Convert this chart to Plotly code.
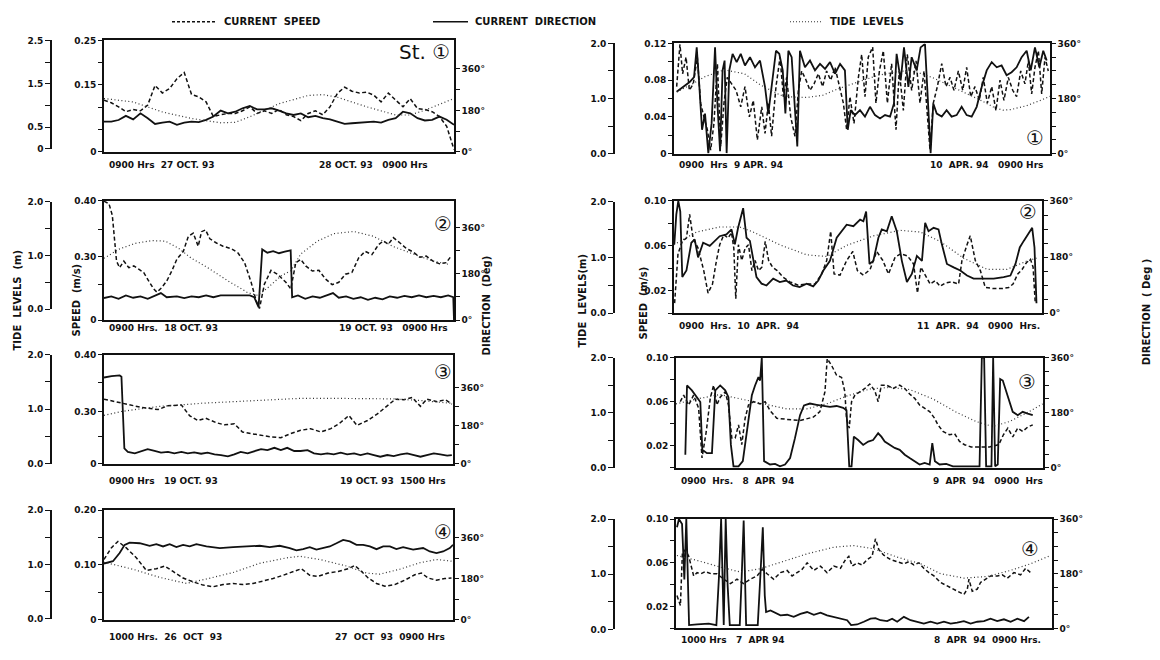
import plotly.graph_objects as go

W, H = 1160, 660

# ---------------- DATA (hours from start, value) ----------------
# Left column, station 1 (0900 27 Oct 93 -> 0900 28 Oct 93)
L1_SPEED = [(0, .116), (.5, .110), (1, .101), (1.5, .090), (2, .095), (2.5, .092), (3, .105), (3.5, .149), (4, .132),
            (4.5, .142), (5, .164), (5.5, .178), (6, .129), (6.5, .123), (7, .112), (7.5, .079), (8, .083), (8.5, .086),
            (9, .086), (9.5, .092), (10, .101), (10.5, .086), (11, .092), (11.5, .086), (12, .095), (12.5, .083),
            (13, .079), (13.5, .070), (14, .086), (14.5, .092), (15, .083), (15.5, .101), (16, .131), (16.5, .145),
            (17, .136), (17.5, .132), (18, .134), (18.5, .127), (19, .112), (19.5, .132), (20, .116), (20.5, .101),
            (21, .119), (21.5, .097), (22, .095), (22.5, .090), (23, .079), (23.5, .057), (24, .005)]
L1_DIR = [(0, 131), (.5, 131), (1, 138), (1.5, 156), (2, 141), (2.5, 167), (3, 146), (3.5, 121), (4, 127), (4.5, 131),
          (5, 117), (5.5, 127), (6, 131), (6.5, 129), (7, 139), (7.5, 153), (8, 179), (8.5, 167), (9, 174), (9.5, 189),
          (10, 199), (10.5, 184), (11, 184), (11.5, 189), (12, 179), (12.5, 167), (13, 160), (13.5, 167), (14, 150),
          (14.5, 156), (15, 146), (15.5, 141), (16, 131), (16.5, 121), (17, 124), (17.5, 127), (18, 127), (18.5, 131),
          (19, 127), (19.5, 139), (20, 146), (20.5, 174), (21, 167), (21.5, 146), (22, 136), (22.5, 139), (23, 153),
          (23.5, 139), (24, 117)]
L1_TIDE = [(0, 1.16), (2, 1.08), (4, .85), (6, .70), (8, .60), (9, .61), (10, .74), (12, 1.04), (14, 1.23), (15, 1.25),
           (16, 1.19), (18, .97), (20, .78), (21, .78), (22, .89), (24, 1.16)]

# Left column, station 2 (0900 18 Oct 93 -> 0900 19 Oct 93); speed in broken-axis units
L2_SPEED = [(0, .399), (.34, .391), (.57, .352), (.73, .275), (.86, .198), (1.07, .176), (1.36, .198), (1.7, .176),
            (2.04, .182), (2.38, .171), (2.72, .160), (3.06, .132), (3.4, .105), (3.63, .094), (3.97, .110),
            (4.31, .132), (4.65, .165), (4.99, .204), (5.44, .231), (5.78, .281), (6.12, .292), (6.46, .248),
            (6.69, .297), (6.96, .303), (7.26, .273), (7.71, .259), (8.16, .248), (8.73, .240), (9.18, .226),
            (9.64, .193), (10.09, .127), (10.43, .066), (10.66, .039), (11.0, .121), (11.45, .167), (11.9, .154),
            (12.47, .127), (12.81, .105), (13.15, .193), (13.49, .204), (13.83, .182), (14.29, .165), (14.74, .167),
            (15.19, .138), (15.65, .119), (16.1, .127), (16.55, .154), (17.0, .160), (17.46, .209), (17.91, .231),
            (18.37, .220), (18.82, .253), (19.16, .266), (19.5, .255), (19.84, .277), (20.3, .259), (20.75, .240),
            (21.2, .229), (21.66, .211), (22.1, .215), (22.56, .198), (23.02, .189), (23.47, .193), (23.8, .215)]
L2_DIR = [(0, 86), (.5, 92), (1, 83), (1.5, 96), (2, 87), (2.5, 92), (3, 83), (3.5, 96), (3.9, 105), (4.3, 89),
          (5, 92), (5.5, 86), (6, 92), (6.5, 89), (7, 96), (7.5, 89), (8, 96), (9, 96), (10, 96), (10.3, 89),
          (10.6, 51), (10.85, 275), (11.2, 262), (11.6, 268), (12, 260), (12.4, 266), (12.8, 271), (12.9, 89),
          (13.3, 96), (13.8, 83), (14.3, 92), (14.8, 87), (15.3, 96), (15.7, 105), (16.1, 87), (16.6, 92), (17.1, 83),
          (17.6, 89), (18.1, 79), (18.6, 87), (19.1, 81), (19.6, 92), (20.1, 87), (20.6, 94), (21.1, 89), (21.6, 96),
          (22.1, 89), (22.6, 94), (23.1, 89), (23.6, 96), (23.95, 89), (24, 0)]
L2_TIDE = [(0, .95), (1.02, 1.12), (2.15, 1.23), (3.29, 1.28), (4.2, 1.27), (5.1, 1.14), (6.0, .95), (7.14, .77),
           (8.5, .53), (9.86, .31), (10.54, .26), (11.22, .40), (12.13, .62), (12.81, .72), (13.49, 1.03),
           (14.63, 1.27), (15.76, 1.41), (17.12, 1.45), (18.48, 1.36), (19.84, 1.17), (21.2, 1.03), (22.56, .90),
           (23.58, .84)]

# Left column, station 3 (0900 -> 1500 19 Oct 93); speed in broken-axis units
L3_SPEED = [(0, .237), (.30, .223), (.64, .207), (.93, .199), (1.10, .213), (1.33, .216), (1.47, .177), (1.61, .159),
            (1.75, .167), (1.93, .151), (2.07, .143), (2.24, .147), (2.38, .117), (2.53, .111), (2.70, .105),
            (2.87, .099), (3.04, .096), (3.21, .111), (3.38, .123), (3.55, .129), (3.73, .117), (3.90, .129),
            (4.04, .147), (4.21, .177), (4.35, .141), (4.53, .159), (4.70, .183), (4.87, .211), (5.01, .237),
            (5.15, .235), (5.30, .243), (5.44, .211), (5.55, .237), (5.73, .228), (5.87, .235), (5.98, .219)]
L3_DIR = [(0, 407), (.13, 414), (.27, 417), (.3, 411), (.35, 73), (.41, 57), (.53, 50), (.64, 61), (.75, 70), (.87, 61),
          (.98, 53), (1.1, 57), (1.21, 50), (1.33, 57), (1.44, 50), (1.55, 54), (1.67, 48), (1.78, 53), (1.9, 45),
          (2.01, 42), (2.13, 36), (2.24, 45), (2.35, 57), (2.47, 50), (2.58, 61), (2.7, 70), (2.81, 65), (2.93, 76),
          (3.04, 65), (3.15, 76), (3.27, 61), (3.38, 61), (3.5, 65), (3.61, 50), (3.73, 45), (3.84, 50), (3.95, 45),
          (4.07, 53), (4.18, 45), (4.3, 50), (4.41, 42), (4.53, 50), (4.64, 42), (4.75, 34), (4.87, 42), (4.98, 37),
          (5.1, 45), (5.21, 50), (5.33, 42), (5.44, 34), (5.55, 42), (5.67, 50), (5.78, 45), (5.9, 39), (5.98, 42)]
L3_TIDE = [(0, .89), (.3, .96), (.64, 1.01), (.93, 1.05), (1.33, 1.08), (1.67, 1.11), (2.24, 1.14), (2.81, 1.17),
           (3.38, 1.20), (3.95, 1.20), (4.53, 1.20), (4.98, 1.19), (5.44, 1.16), (5.98, 1.11)]

# Left column, station 4 (1000 26 Oct 93 -> 0900 27 Oct 93)
L4_SPEED = [(0, .110), (.48, .131), (.92, .143), (1.47, .131), (2.13, .113), (2.79, .090), (3.45, .093), (4.0, .098),
            (4.55, .088), (5.21, .076), (5.87, .069), (6.53, .063), (7.19, .060), (7.85, .064), (8.51, .066),
            (9.16, .064), (9.82, .066), (10.48, .070), (11.14, .075), (11.8, .081), (12.46, .088), (13.01, .093),
            (13.56, .081), (14.11, .079), (14.77, .085), (15.43, .088), (16.09, .093), (16.53, .099), (16.97, .088),
            (17.41, .076), (17.96, .066), (18.51, .061), (19.16, .064), (19.82, .072), (20.48, .082), (20.92, .085),
            (21.36, .076), (21.91, .072), (22.46, .075), (22.9, .076)]
L4_DIR = [(0, 246), (.59, 256), (1.03, 292), (1.36, 328), (1.69, 338), (2.35, 335), (3.01, 324), (3.45, 331),
          (3.89, 321), (4.33, 331), (4.77, 318), (5.21, 328), (5.65, 321), (6.09, 331), (6.75, 321), (7.63, 314),
          (8.51, 318), (9.38, 321), (10.26, 324), (10.92, 318), (11.58, 324), (12.24, 314), (12.68, 304),
          (13.12, 309), (13.56, 318), (14.0, 307), (14.44, 314), (14.88, 321), (15.32, 335), (15.76, 350),
          (16.2, 343), (16.64, 328), (17.08, 328), (17.52, 321), (17.96, 309), (18.4, 321), (18.84, 321),
          (19.27, 309), (19.71, 318), (20.37, 307), (21.03, 314), (21.47, 299), (21.91, 292), (22.35, 299),
          (22.79, 314), (23.0, 328)]
L4_TIDE = [(0, 1.04), (1.91, .91), (3.67, .76), (5.43, .65), (6.75, .73), (8.51, .85), (10.26, 1.02), (12.02, 1.12),
           (12.9, 1.15), (14.22, 1.09), (15.98, .97), (17.3, .84), (18.18, .82), (19.49, .91), (20.81, 1.03),
           (21.91, 1.09), (22.9, 1.06)]

# Right column, station 1 (0900 9 Apr 94 -> 0900 10 Apr 94)
R1_SPEED = [(.17, .073), (.38, .119), (.55, .087), (.77, .105), (.98, .069), (1.23, .076), (1.49, .105), (1.7, .055),
            (1.91, .040), (2.13, .026), (2.34, .004), (2.55, .033), (2.77, .098), (2.98, .008), (3.19, .055),
            (3.4, .083), (3.68, .076), (3.96, .069), (4.26, .051), (4.53, .073), (4.81, .040), (5.06, .058),
            (5.32, .015), (5.6, .051), (5.81, .022), (6.02, .055), (6.23, .019), (6.51, .073), (6.77, .105),
            (6.98, .062), (7.19, .083), (7.45, .040), (7.72, .019), (7.94, .069), (8.15, .090), (8.43, .080),
            (8.68, .069), (8.94, .076), (9.21, .087), (9.49, .073), (9.74, .090), (10.0, .080), (10.28, .094),
            (10.55, .073), (10.81, .055), (11.02, .026), (11.23, .062), (11.49, .033), (11.77, .083), (11.98, .108),
            (12.19, .062), (12.4, .105), (12.68, .116), (12.89, .055), (13.11, .090), (13.36, .112), (13.62, .055),
            (13.89, .098), (14.17, .026), (14.38, .090), (14.64, .047), (14.89, .108), (15.17, .069), (15.45, .101),
            (15.7, .055), (15.96, .090), (16.17, .037), (16.34, .004), (16.55, .055), (16.81, .073), (17.09, .098),
            (17.36, .073), (17.62, .083), (17.87, .069), (18.15, .090), (18.43, .069), (18.68, .094), (18.94, .062),
            (19.21, .073), (19.49, .058), (19.74, .083), (20.0, .055), (20.28, .073), (20.55, .047), (20.81, .080),
            (21.06, .058), (21.34, .083), (21.62, .069), (21.87, .062), (22.13, .090), (22.4, .076), (22.62, .101),
            (22.83, .065), (23.04, .094), (23.26, .112), (23.47, .065), (23.68, .105), (23.89, .090)]
R1_DIR = [(.17, 202), (.6, 218), (1.0, 234), (1.28, 250), (1.45, 347), (1.62, 218), (1.79, 78), (1.98, 131), (2.19, 2),
          (2.4, 99), (2.62, 347), (2.77, 164), (2.94, 8), (3.1, 272), (3.23, 304), (3.36, 2), (3.53, 272), (3.74, 326),
          (4.0, 299), (4.26, 326), (4.53, 288), (4.85, 315), (5.17, 282), (5.49, 304), (5.81, 218), (6.02, 131),
          (6.3, 239), (6.51, 336), (6.72, 326), (6.94, 272), (7.11, 131), (7.3, 336), (7.51, 315), (7.72, 164),
          (7.87, 24), (8.04, 336), (8.36, 282), (8.68, 304), (9.0, 272), (9.32, 293), (9.64, 277), (9.96, 299),
          (10.28, 261), (10.6, 293), (10.91, 272), (11.09, 78), (11.28, 142), (11.55, 126), (11.87, 142),
          (12.19, 121), (12.51, 153), (12.83, 126), (13.15, 115), (13.47, 126), (13.79, 121), (14.04, 164),
          (14.21, 326), (14.47, 239), (14.68, 347), (14.96, 218), (15.17, 315), (15.49, 272), (15.74, 347),
          (16.02, 358), (16.23, 121), (16.38, 2), (16.55, 164), (16.77, 131), (17.09, 121), (17.4, 142),
          (17.72, 121), (18.04, 126), (18.36, 153), (18.68, 126), (19.0, 121), (19.32, 153), (19.64, 218),
          (19.96, 272), (20.28, 299), (20.6, 282), (20.91, 288), (21.23, 256), (21.55, 266), (21.87, 282),
          (22.19, 315), (22.51, 336), (22.77, 272), (23.04, 347), (23.32, 282), (23.57, 336), (23.79, 304)]
R1_TIDE = [(.17, 1.12), (1.0, 1.24), (2.0, 1.40), (3.2, 1.52), (4.5, 1.45), (5.5, 1.25), (6.8, 1.06), (7.5, 1.03),
           (8.5, 1.02), (9.5, 1.06), (10.5, 1.18), (11.7, 1.30), (13.0, 1.42), (14.5, 1.50), (15.5, 1.48),
           (16.5, 1.38), (17.5, 1.25), (18.5, 1.12), (19.5, .98), (20.5, .83), (21.0, .79), (21.5, .80), (22.5, .87),
           (23.5, .98), (24.0, 1.04)]

# Right column, station 2 (0900 10 Apr 94 -> 0900 11 Apr 94)
R2_SPEED = [(.04, .009), (.26, .053), (.54, .064), (.81, .067), (1.02, .088), (1.24, .067), (1.57, .058), (1.94, .038),
            (2.22, .018), (2.51, .026), (2.77, .047), (2.98, .061), (3.25, .070), (3.53, .067), (3.75, .072),
            (3.9, .058), (4.03, .013), (4.2, .061), (4.42, .047), (4.64, .058), (4.86, .061), (5.08, .038),
            (5.29, .047), (5.51, .038), (5.73, .041), (5.95, .064), (6.17, .047), (6.43, .041), (6.73, .038),
            (7.12, .032), (7.56, .028), (8.1, .025), (8.65, .026), (9.19, .026), (9.63, .035), (9.96, .047),
            (10.22, .073), (10.44, .035), (10.83, .034), (11.26, .047), (11.66, .055), (11.96, .038), (12.35, .034),
            (12.79, .039), (13.22, .055), (13.62, .047), (13.99, .035), (14.42, .050), (14.79, .053), (15.23, .051),
            (15.62, .044), (15.88, .018), (16.1, .041), (16.38, .034), (16.71, .026), (17.04, .029), (17.36, .024),
            (17.69, .027), (18.13, .028), (18.56, .026), (18.78, .047), (19.11, .061), (19.32, .069), (19.65, .047),
            (19.98, .038), (20.3, .023), (20.85, .022), (21.39, .022), (21.83, .023), (22.11, .026), (22.42, .035),
            (22.7, .039), (22.98, .045), (23.25, .048), (23.42, .041), (23.56, .009)]
R2_DIR = [(.02, 221), (.15, 316), (.28, 360), (.41, 326), (.54, 116), (.81, 137), (1.13, 226), (1.35, 237), (1.57, 179),
          (1.9, 226), (2.33, 216), (2.66, 232), (2.98, 247), (3.42, 253), (3.75, 269), (3.97, 221), (4.18, 274),
          (4.51, 337), (4.73, 242), (4.95, 232), (5.16, 168), (5.38, 116), (5.71, 95), (6.03, 89), (6.47, 111),
          (6.9, 100), (7.32, 105), (7.76, 89), (8.19, 84), (8.65, 95), (9.08, 86), (9.41, 105), (9.74, 137),
          (10.17, 168), (10.61, 242), (10.94, 263), (11.26, 284), (11.7, 279), (12.14, 300), (12.35, 295),
          (12.53, 326), (12.75, 158), (13.0, 168), (13.33, 242), (13.55, 269), (13.88, 263), (14.2, 311),
          (14.53, 263), (14.86, 168), (15.19, 100), (15.51, 126), (15.84, 184), (16.17, 168), (16.38, 290),
          (16.6, 263), (16.93, 274), (17.25, 269), (17.47, 221), (17.8, 158), (18.24, 147), (18.67, 137),
          (19.11, 121), (19.54, 111), (20.2, 111), (20.85, 111), (21.5, 116), (21.94, 121), (22.27, 158),
          (22.55, 211), (22.81, 232), (23.14, 258), (23.36, 274), (23.51, 211), (23.64, 32)]
R2_TIDE = [(0, 1.23), (1.46, 1.46), (2.98, 1.55), (4.29, 1.55), (5.16, 1.46), (6.9, 1.23), (8.65, 1.05), (9.96, 1.02),
           (11.26, 1.22), (13.0, 1.39), (14.75, 1.49), (16.06, 1.46), (17.36, 1.29), (18.89, .99), (20.41, .79),
           (21.72, .79), (23.03, .94), (23.64, .99)]

# Right column, station 3 (0900 8 Apr 94 -> 0900 9 Apr 94)
R3_SPEED = [(.28, .060), (.5, .066), (.83, .057), (1.15, .066), (1.48, .054), (1.7, .009), (1.98, .033), (2.24, .063),
            (2.46, .075), (2.67, .057), (2.89, .064), (3.22, .069), (3.43, .057), (3.65, .027), (3.87, .027),
            (4.09, .039), (4.3, .021), (4.52, .045), (4.74, .057), (5.07, .060), (5.5, .058), (5.83, .060),
            (6.15, .052), (6.59, .045), (7.24, .044), (8.11, .043), (8.98, .046), (9.41, .051), (9.74, .069),
            (9.89, .099), (10.17, .093), (10.5, .084), (10.83, .082), (11.04, .069), (11.15, .045), (11.33, .036),
            (11.48, .060), (11.7, .066), (12.02, .069), (12.35, .072), (12.67, .076), (13.0, .070), (13.22, .060),
            (13.43, .075), (13.76, .075), (14.2, .072), (14.63, .075), (14.96, .072), (15.28, .067), (15.61, .063),
            (15.93, .057), (16.26, .054), (16.59, .051), (16.91, .045), (17.13, .039), (17.46, .033), (17.89, .030),
            (18.22, .031), (18.54, .024), (18.87, .021), (19.3, .019), (19.85, .019), (20.5, .019), (21.11, .021),
            (21.41, .030), (21.7, .036), (22.02, .028), (22.35, .036), (22.67, .033), (23.0, .037), (23.33, .039)]
R3_DIR = [(.61, 43), (.72, 269), (1.04, 253), (1.37, 231), (1.59, 215), (1.72, 59), (2.02, 48), (2.35, 48), (2.57, 253),
          (2.89, 269), (3.22, 253), (3.43, 231), (3.59, 75), (3.76, 5), (4.09, 5), (4.37, 22), (4.52, 75), (4.74, 161),
          (4.96, 237), (5.17, 269), (5.39, 296), (5.5, 285), (5.61, 360), (5.76, 22), (6.15, 11), (6.48, 13),
          (6.8, 5), (7.13, 11), (7.46, 32), (7.78, 97), (8.11, 172), (8.37, 204), (8.76, 210), (9.2, 206),
          (9.63, 202), (10.07, 199), (10.5, 202), (10.93, 196), (11.15, 188), (11.33, 5), (11.48, 5), (11.63, 102),
          (11.91, 91), (12.24, 75), (12.57, 86), (12.89, 91), (13.22, 113), (13.43, 102), (13.65, 86), (13.98, 75),
          (14.3, 65), (14.63, 59), (14.96, 43), (15.28, 32), (15.61, 22), (15.93, 11), (16.26, 16), (16.59, 11),
          (16.76, 81), (16.93, 22), (17.24, 11), (17.67, 13), (18.11, 5), (18.76, 5), (19.41, 5), (19.85, 5),
          (20.0, 360), (20.15, 360), (20.28, 5), (20.63, 5), (20.74, 360), (20.87, 5), (21.04, 11), (21.2, 290),
          (21.37, 285), (21.7, 237), (22.02, 183), (22.35, 172), (22.67, 183), (23.0, 177), (23.33, 172)]
R3_TIDE = [(0, 1.16), (1.37, 1.25), (2.89, 1.33), (4.2, 1.25), (5.72, 1.15), (7.24, 1.07), (8.54, 1.07), (9.85, 1.16),
           (11.15, 1.30), (12.67, 1.43), (13.98, 1.46), (15.28, 1.42), (16.8, 1.25), (18.33, 1.01), (19.63, .84),
           (20.72, .75), (21.8, .84), (22.89, .99), (23.98, 1.16)]

# Right column, station 4 (1000 7 Apr 94 -> 0900 8 Apr 94)
R4_SPEED = [(.06, .030), (.27, .021), (.39, .069), (.57, .072), (.78, .066), (1.08, .048), (1.29, .051), (1.53, .050),
            (1.8, .052), (2.14, .050), (2.51, .050), (2.92, .045), (3.33, .041), (3.73, .045), (4.14, .041),
            (4.55, .045), (4.96, .048), (5.27, .054), (5.57, .050), (5.98, .045), (6.39, .051), (6.8, .053),
            (7.1, .048), (7.41, .051), (7.71, .054), (8.02, .060), (8.43, .053), (8.84, .057), (9.24, .051),
            (9.65, .057), (10.06, .055), (10.37, .063), (10.57, .066), (10.78, .057), (11.08, .060), (11.39, .058),
            (11.69, .063), (12.0, .066), (12.2, .082), (12.41, .072), (12.71, .067), (13.12, .063), (13.53, .061),
            (13.94, .059), (14.24, .061), (14.55, .058), (14.86, .060), (15.16, .055), (15.47, .051), (15.78, .048),
            (16.18, .042), (16.59, .039), (17.0, .036), (17.31, .033), (17.61, .031), (17.82, .036), (17.92, .045),
            (18.12, .034), (18.43, .036), (18.63, .042), (18.94, .045), (19.24, .048), (19.65, .048), (19.96, .049),
            (20.27, .046), (20.67, .051), (21.08, .049), (21.39, .055), (21.69, .051)]
R4_DIR = [(.06, 333), (.18, 360), (.37, 344), (.51, 161), (.63, 360), (.71, 140), (.8, 11), (1.29, 13), (2.0, 16),
          (2.47, 11), (2.63, 172), (2.76, 360), (2.92, 11), (3.04, 360), (3.16, 140), (3.29, 11), (3.9, 11),
          (4.02, 172), (4.14, 355), (4.29, 11), (5.0, 11), (5.16, 172), (5.31, 333), (5.43, 108), (5.51, 54),
          (5.78, 59), (6.08, 52), (6.39, 43), (6.8, 45), (7.2, 38), (7.61, 48), (8.02, 54), (8.43, 45), (8.84, 52),
          (9.24, 43), (9.65, 38), (10.06, 32), (10.47, 27), (10.71, 11), (11.08, 13), (11.49, 22), (11.9, 32),
          (12.2, 34), (12.51, 27), (12.92, 24), (13.22, 32), (13.53, 22), (13.94, 38), (14.35, 27), (14.76, 22),
          (15.16, 16), (15.57, 22), (15.98, 16), (16.39, 22), (16.8, 16), (17.2, 19), (17.61, 24), (18.02, 16),
          (18.43, 22), (18.84, 24), (19.24, 32), (19.65, 24), (20.06, 30), (20.47, 22), (20.88, 32), (21.29, 24),
          (21.59, 38)]
R4_TIDE = [(.06, 1.34), (1.29, 1.25), (2.71, 1.13), (3.94, 1.04), (5.16, 1.10), (6.39, 1.22), (8.02, 1.37),
           (9.65, 1.49), (10.88, 1.52), (12.1, 1.46), (13.53, 1.31), (14.96, 1.19), (16.18, 1.01), (17.61, .93),
           (19.04, .96), (20.47, 1.07), (21.69, 1.19), (22.92, 1.34)]

# Axis tick values / labels
DIR_TICKS_L = [0, 90, 180, 270, 360]
DIR_TICKS_R = [0, 45, 90, 135, 180, 225, 270, 315, 360]
TIDE_TICKS = [0, 0.5, 1.0, 1.5, 2.0]
TIDE_TEXT = ["0.0", "", "1.0", "", "2.0"]

# ---------------- PANEL LAYOUT (pixels) ----------------
panels = [
    dict(name="L1", T=24, box=(104, 454, 36, 149), tx=51, tdom=(36, 146), trange=[0, 2.5],
         ttick=[0, 0.5, 1.0, 1.5, 2.0, 2.5], ttext=["0", "0.5", "", "1.5", "", "2.5"],
         srange=[0, 0.25], stick=[0, 0.05, 0.10, 0.15, 0.20, 0.25], stext=["0", "", "", "0.15", "", "0.25"],
         drange=[0, 484], dtick=DIR_TICKS_L, data=(L1_SPEED, L1_DIR, L1_TIDE),
         xl="0900 Hrs\u00a0\u00a027 OCT. 93", xr="28 OCT. 93\u00a0\u00a0\u00a00900 Hrs", xly=162, xrx=430,
         st="St. \u2460", stx=424, sty=48),
    dict(name="L2", T=24, box=(104, 454, 199, 320), tx=51, tdom=(200, 309), trange=[0, 2],
         ttick=TIDE_TICKS, ttext=TIDE_TEXT,
         srange=[0, 0.40], stick=[0, 0.121, 0.213, 0.303, 0.40], stext=["0", "", "0.30", "", "0.40"],
         drange=[0, 463], dtick=DIR_TICKS_L, data=(L2_SPEED, L2_DIR, L2_TIDE),
         xl="0900 Hrs.\u00a0\u00a018 OCT. 93", xr="19 OCT. 93\u00a0\u00a0\u00a00900 Hrs", xly=328, xrx=450,
         st="\u2461", stx=443, sty=222),
    dict(name="L3", T=6, box=(104, 453, 355, 466), tx=51, tdom=(355, 466), trange=[0, 2],
         ttick=TIDE_TICKS, ttext=TIDE_TEXT,
         srange=[0, 0.40], stick=[0, 0.099, 0.192, 0.298, 0.40], stext=["0", "", "0.30", "", "0.40"],
         drange=[0, 515], dtick=DIR_TICKS_L, data=(L3_SPEED, L3_DIR, L3_TIDE),
         xl="0900 Hrs\u00a0\u00a0\u00a019 OCT. 93", xr="19 OCT. 93\u00a0\u00a01500 Hrs", xly=483, xrx=448,
         st="\u2462", stx=443, sty=373),
    dict(name="L4", T=23, box=(104, 453, 513, 624), tx=51, tdom=(513, 623), trange=[0, 2],
         ttick=TIDE_TICKS, ttext=TIDE_TEXT,
         srange=[0, 0.20], stick=[0, 0.05, 0.10, 0.15, 0.20], stext=["0", "", "0.10", "", "0.20"],
         drange=[0, 480], dtick=DIR_TICKS_L, data=(L4_SPEED, L4_DIR, L4_TIDE),
         xl="1000 Hrs.\u00a0\u00a026\u00a0 OCT\u00a0\u00a093", xr="27\u00a0 OCT\u00a0 93\u00a0\u00a00900 Hrs", xly=642, xrx=447,
         st="\u2463", stx=443, sty=535),
    dict(name="R1", T=24, box=(674, 1050, 39, 151), tx=614, tdom=(39, 151), trange=[0, 2],
         ttick=TIDE_TICKS, ttext=TIDE_TEXT,
         srange=[0, 0.12], stick=[0, 0.02, 0.04, 0.06, 0.08, 0.10, 0.12], stext=["0", "", "0.04", "", "0.08", "", "0.12"],
         drange=[0, 360], dtick=DIR_TICKS_R, data=(R1_SPEED, R1_DIR, R1_TIDE),
         xl="0900\u00a0 Hrs\u00a0\u00a09 APR. 94", xr="10\u00a0 APR. 94\u00a0\u00a0\u00a00900 Hrs", xly=162, xrx=1045,
         st="\u2460", stx=1035, sty=135),
    dict(name="R2", T=24, box=(674, 1042, 199, 313), tx=614, tdom=(200, 313), trange=[0, 2],
         ttick=TIDE_TICKS, ttext=TIDE_TEXT,
         srange=[0, 0.10], stick=[0, 0.02, 0.04, 0.06, 0.08, 0.10], stext=["", "0.02", "", "0.06", "", "0.10"],
         drange=[0, 360], dtick=DIR_TICKS_R, data=(R2_SPEED, R2_DIR, R2_TIDE),
         xl="0900\u00a0 Hrs.\u00a0 10\u00a0 APR.\u00a0 94", xr="11\u00a0 APR.\u00a0 94\u00a0\u00a0\u00a00900\u00a0 Hrs.", xly=326, xrx=1042,
         st="\u2461", stx=1028, sty=210),
    dict(name="R3", T=24, box=(676, 1043, 358, 470), tx=614, tdom=(358, 470), trange=[0, 2],
         ttick=TIDE_TICKS, ttext=TIDE_TEXT,
         srange=[0, 0.10], stick=[0, 0.02, 0.04, 0.06, 0.08, 0.10], stext=["", "0.02", "", "0.06", "", "0.10"],
         drange=[0, 360], dtick=DIR_TICKS_R, data=(R3_SPEED, R3_DIR, R3_TIDE),
         xl="0900\u00a0 Hrs.\u00a0\u00a0 8\u00a0 APR\u00a0 94", xr="9\u00a0 APR\u00a0 94\u00a0\u00a0\u00a00900\u00a0 Hrs", xly=483, xrx=1045,
         st="\u2462", stx=1027, sty=383),
    dict(name="R4", T=23, box=(676, 1052, 522, 633), tx=614, tdom=(522, 634), trange=[0, 2],
         ttick=TIDE_TICKS, ttext=TIDE_TEXT,
         srange=[0, 0.10], stick=[0, 0.02, 0.04, 0.06, 0.08, 0.10], stext=["", "0.02", "", "0.06", "", "0.10"],
         drange=[0, 360], dtick=DIR_TICKS_R, data=(R4_SPEED, R4_DIR, R4_TIDE),
         xl="1000\u00a0Hrs\u00a0\u00a0\u00a07\u00a0 APR\u00a094", xr="8\u00a0 APR\u00a0 94\u00a0\u00a00900 Hrs.", xly=645, xrx=1043,
         st="\u2463", stx=1030, sty=552),
]

FONT = "DejaVu Sans"
INK = "#111111"


def fx(x):
    return x / W


def fy(y):
    return 1 - y / H


fig = go.Figure()
layout = {}
annotations = []
shapes = []

for i, p in enumerate(panels):
    xi = i + 1
    ys, yd, yt = 3 * i + 1, 3 * i + 2, 3 * i + 3
    x0, x1, yt0, yb0 = p["box"]
    speed, direc, tide = p["data"]

    xname = "xaxis" if xi == 1 else f"xaxis{xi}"
    layout[xname] = dict(domain=[fx(x0), fx(x1)], range=[0, p["T"]], anchor=f"y{ys}",
                         showline=True, linecolor=INK, linewidth=1.6, mirror=True,
                         showgrid=False, zeroline=False, showticklabels=False, ticks="")
    tickfont = dict(family=FONT, size=9, color=INK, weight="bold")
    sname = "yaxis" if ys == 1 else f"yaxis{ys}"
    layout[sname] = dict(domain=[fy(yb0), fy(yt0)], range=p["srange"], anchor=f"x{xi}",
                         showline=True, linecolor=INK, linewidth=1.6, showgrid=False, zeroline=False,
                         tickmode="array", tickvals=p["stick"], ticktext=p["stext"],
                         ticks="outside", ticklen=4, tickwidth=1.2, tickcolor=INK, tickfont=tickfont)
    dtext = [f"{v}\u00b0" if v in (0, 180, 360) else "" for v in p["dtick"]]
    layout[f"yaxis{yd}"] = dict(overlaying=f"y{ys}", side="right", anchor=f"x{xi}", range=p["drange"],
                                showline=True, linecolor=INK, linewidth=1.6, showgrid=False, zeroline=False,
                                tickmode="array", tickvals=p["dtick"], ticktext=dtext,
                                ticks="outside", ticklen=4, tickwidth=1.2, tickcolor=INK, tickfont=tickfont)
    tt0, tb0 = p["tdom"]
    layout[f"yaxis{yt}"] = dict(domain=[fy(tb0), fy(tt0)], range=p["trange"], anchor="free", position=fx(p["tx"]),
                                side="left", showline=True, linecolor=INK, linewidth=1.6, showgrid=False,
                                zeroline=False, tickmode="array", tickvals=p["ttick"], ticktext=p["ttext"],
                                ticks="outside", ticklen=5, tickwidth=1.2, tickcolor=INK, tickfont=tickfont)

    fig.add_trace(go.Scatter(x=[a for a, b in tide], y=[b for a, b in tide], xaxis=f"x{xi}", yaxis=f"y{yt}",
                             mode="lines", line=dict(color="#333333", width=1.2, dash="1px,2.5px"),
                             showlegend=False, hoverinfo="skip"))
    fig.add_trace(go.Scatter(x=[a for a, b in speed], y=[b for a, b in speed], xaxis=f"x{xi}", yaxis=f"y{ys}",
                             mode="lines", line=dict(color=INK, width=1.5, dash="4px,2.5px"),
                             showlegend=False, hoverinfo="skip"))
    fig.add_trace(go.Scatter(x=[a for a, b in direc], y=[b for a, b in direc], xaxis=f"x{xi}", yaxis=f"y{yd}",
                             mode="lines", line=dict(color=INK, width=1.8),
                             showlegend=False, hoverinfo="skip"))

    lab_font = dict(family=FONT, size=9, color=INK, weight="bold")
    annotations.append(dict(x=fx(x0 + 3), y=fy(p["xly"]), xref="paper", yref="paper", text=p["xl"],
                            showarrow=False, xanchor="left", yanchor="middle", font=lab_font))
    annotations.append(dict(x=fx(p["xrx"]), y=fy(p["xly"]), xref="paper", yref="paper", text=p["xr"],
                            showarrow=False, xanchor="right", yanchor="middle", font=lab_font))
    annotations.append(dict(x=fx(p["stx"]), y=fy(p["sty"]), xref="paper", yref="paper", text=p["st"],
                            showarrow=False, xanchor="center", yanchor="middle",
                            font=dict(family="DejaVu Sans, Noto Sans CJK JP", size=20, color=INK)))

# Axis titles (vertical)
title_font = dict(family=FONT, size=10, color=INK, weight="bold")
for (x, y, t) in [(17, 300, "TIDE\u00a0 LEVELS\u00a0 (m)"), (76, 300, "SPEED\u00a0 (m/s)"),
                  (486, 305, "DIRECTION\u00a0 (Deg)"),
                  (582, 300, "TIDE\u00a0 LEVELS(m)"), (643, 303, "SPEED\u00a0 (m/s)"),
                  (1146, 312, "DIRECTION\u00a0 ( Deg )")]:
    annotations.append(dict(x=fx(x), y=fy(y), xref="paper", yref="paper", text=t, textangle=-90,
                            showarrow=False, xanchor="center", yanchor="middle", font=title_font))

# Legend (drawn manually across the top)
leg_y = fy(17)
shapes.append(dict(type="line", xref="paper", yref="paper", x0=fx(172), x1=fx(215), y0=leg_y, y1=leg_y,
                   line=dict(color=INK, width=1.4, dash="3px,2px")))
shapes.append(dict(type="line", xref="paper", yref="paper", x0=fx(433), x1=fx(468), y0=leg_y, y1=leg_y,
                   line=dict(color=INK, width=1.6)))
shapes.append(dict(type="line", xref="paper", yref="paper", x0=fx(790), x1=fx(822), y0=leg_y, y1=leg_y,
                   line=dict(color="#333333", width=1.2, dash="1px,2px")))
leg_font = dict(family=FONT, size=10, color=INK, weight="bold")
for (x, t) in [(222, "CURRENT\u00a0\u00a0SPEED"), (473, "CURRENT\u00a0\u00a0DIRECTION"),
               (828, "TIDE\u00a0\u00a0LEVELS")]:
    annotations.append(dict(x=fx(x), y=leg_y, xref="paper", yref="paper", text=t, showarrow=False,
                            xanchor="left", yanchor="middle", font=leg_font))

fig.update_layout(width=W, height=H, margin=dict(l=0, r=0, t=0, b=0), autosize=False,
                  paper_bgcolor="white", plot_bgcolor="rgba(0,0,0,0)", showlegend=False,
                  annotations=annotations, shapes=shapes, **layout)

fig.write_html("out.html", config={"displayModeBar": False},
               post_script="document.body.style.margin='0';document.body.style.padding='0';")
